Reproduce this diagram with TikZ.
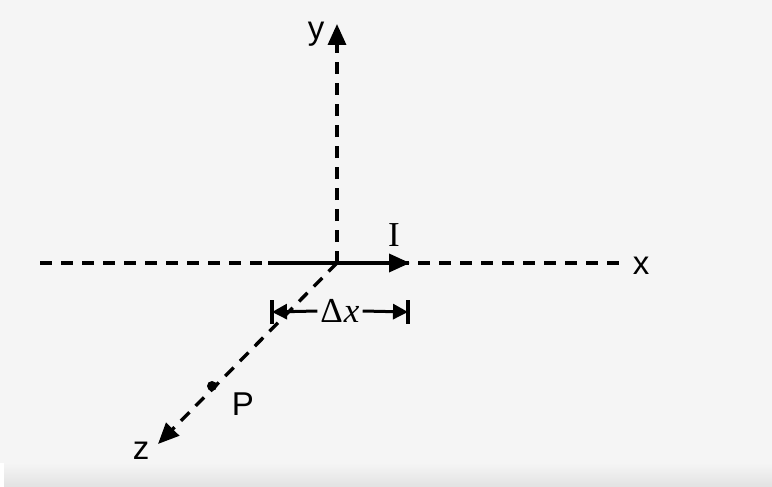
\documentclass[tikz,border=0pt]{standalone}
\usepackage{fontspec}
\setmainfont{Liberation Serif}
\setsansfont{Liberation Sans}
\usetikzlibrary{arrows.meta}
\definecolor{bg}{RGB}{245,245,245}
\definecolor{band}{RGB}{226,226,226}
\tikzset{
  axis/.style={line width=3.4pt, dash pattern=on 12pt off 9pt, color=black},
  tipA/.style={-{Triangle[length=21pt,width=18pt]}},
  lab/.style={font=\sffamily\fontsize{33}{33}\selectfont, inner sep=0pt},
  slab/.style={font=\fontsize{35}{35}\selectfont, inner sep=0pt},
  dim/.style={line width=3pt, -{Triangle[length=15pt,width=15pt]}},
}
\begin{document}
\begin{tikzpicture}[x=1pt,y=-1pt]
\useasboundingbox (0,0) rectangle (772,487);
\fill[bg] (0,0) rectangle (772,487);
\shade[top color=bg, bottom color=band] (4,463) rectangle (772,487);
\fill[white] (0,463) rectangle (4,487);
% named points
\coordinate (O) at (337,263);
\coordinate (xl) at (40,263);
\coordinate (xr) at (626,263);
\coordinate (ytip) at (337,24);
\coordinate (ztip) at (158,444);
\coordinate (is) at (268,263);
\coordinate (ie) at (410,263);
\coordinate (dl) at (272,312);
\coordinate (dr) at (408,312);
% axes
\draw[axis] (xl) -- (xr);
\draw[axis, tipA] (O) -- (ytip);
\draw[axis, tipA] (O) -- (ztip);
% current element
\draw[line width=3.6pt, tipA] (is) -- (ie);
% point P
\fill (212,386) circle (5pt) coordinate (Pdot);
% labels
\node[lab] (ly) at (316,34) {y};
\node[lab] (lx) at (641,266) {x};
\node[lab] (lz) at (141,451) {z};
\node[lab] (lP) at (243,404) {P};
\node[slab] (lI) at (394,235) {I};
\node[slab] (ldx) at (340,311) {Δ\kern1pt\itshape x};
% dimension
\draw[dim] (ldx.west) ++(-3,0) -- (dl);
\draw[dim] (ldx.east) ++(3,0) -- (dr);
\draw[line width=3.6pt] (dl) ++(0,-12) -- ++(0,24);
\draw[line width=3.6pt] (dr) ++(0,-12) -- ++(0,24);
\end{tikzpicture}
\end{document}
